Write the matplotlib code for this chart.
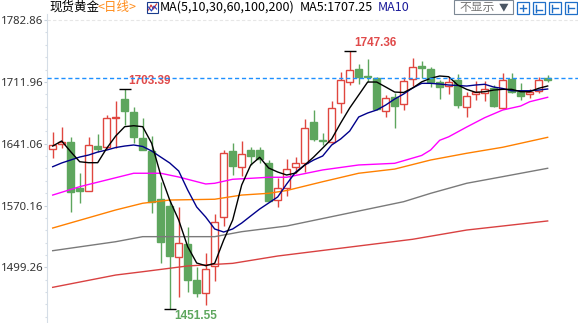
import matplotlib
matplotlib.use("Agg")
import matplotlib.pyplot as plt
from matplotlib.patches import Rectangle
from matplotlib.ticker import FixedLocator

plt.rcParams['font.family'] = ['Noto Sans CJK SC', 'DejaVu Sans']

# daily candles, oldest first
opens = [1634.6, 1640.4, 1643.4, 1589.9, 1587.4, 1638.4, 1637.3, 1670.5, 1692.3, 1677.8,
         1647.3, 1633.0, 1577.7, 1569.6, 1510.8, 1526.1, 1484.8, 1469.5, 1501.2, 1556.7,
         1632.7, 1614.7, 1633.8, 1633.8, 1619.0, 1576.5, 1590.3, 1614.0, 1619.3, 1665.6,
         1645.0, 1642.7, 1687.4, 1711.5, 1726.7, 1718.4, 1716.1, 1678.6, 1695.0, 1686.6,
         1715.3, 1730.2, 1726.7, 1711.5, 1707.6, 1714.1, 1683.5, 1697.7, 1699.6, 1705.3,
         1681.7, 1714.9, 1700.7, 1697.7, 1701.5, 1716.6]
closes = [1639.6, 1643.0, 1585.7, 1587.4, 1639.6, 1635.0, 1670.2, 1671.7, 1678.9, 1648.4,
          1633.8, 1573.9, 1528.7, 1512.6, 1526.9, 1484.8, 1470.2, 1497.1, 1551.0, 1630.1,
          1615.9, 1628.9, 1627.0, 1623.0, 1575.7, 1590.0, 1611.7, 1618.6, 1658.7, 1646.5,
          1644.5, 1681.7, 1714.1, 1725.6, 1717.2, 1717.2, 1680.9, 1693.1, 1684.3, 1712.6,
          1728.7, 1728.4, 1712.2, 1706.4, 1711.5, 1685.4, 1696.1, 1700.7, 1703.5, 1684.6,
          1714.1, 1700.7, 1696.1, 1700.7, 1714.1, 1714.6]
highs = [1654.8, 1660.6, 1648.4, 1607.5, 1648.8, 1652.2, 1674.0, 1690.0, 1703.39, 1683.1,
         1670.5, 1649.9, 1597.5, 1576.5, 1568.8, 1545.9, 1500.0, 1515.4, 1560.5, 1633.8,
         1642.2, 1644.2, 1637.3, 1637.3, 1622.4, 1601.4, 1623.5, 1626.2, 1669.0, 1679.7,
         1653.0, 1690.4, 1723.6, 1747.36, 1732.1, 1737.8, 1718.1, 1696.9, 1698.9, 1717.6,
         1739.0, 1735.9, 1729.4, 1714.1, 1717.2, 1721.0, 1700.7, 1713.3, 1713.3, 1708.4,
         1721.8, 1721.8, 1710.3, 1703.4, 1717.2, 1719.9]
lows = [1625.0, 1635.6, 1563.1, 1573.1, 1586.3, 1631.0, 1635.0, 1636.7, 1662.5, 1642.2,
        1633.3, 1561.3, 1504.6, 1451.55, 1465.6, 1471.4, 1465.3, 1456.1, 1484.0, 1546.7,
        1605.2, 1604.0, 1616.6, 1618.9, 1575.4, 1568.8, 1581.1, 1607.1, 1609.0, 1644.2,
        1639.6, 1641.9, 1675.9, 1708.4, 1709.2, 1712.2, 1679.7, 1671.3, 1659.4, 1679.7,
        1707.6, 1716.1, 1706.4, 1692.3, 1697.7, 1681.7, 1671.3, 1691.2, 1690.4, 1682.8,
        1680.5, 1699.6, 1691.2, 1693.1, 1699.6, 1711.5]
last_price = 1716.0

ma5 = [1638.4, 1644.2, 1631.9, 1620.4, 1619.3, 1619.3, 1635.8, 1649.9, 1660.6, 1661.7,
       1660.6, 1641.5, 1605.2, 1576.5, 1553.6, 1523.0, 1504.3, 1501.2, 1503.9, 1530.6,
       1553.6, 1593.7, 1616.6, 1625.5, 1613.2, 1608.6, 1605.2, 1607.5, 1616.6, 1625.8,
       1636.1, 1646.5, 1664.8, 1682.0, 1696.9, 1711.8, 1711.8, 1706.1, 1700.3, 1699.8,
       1705.0, 1712.0, 1716.1, 1718.7, 1717.9, 1708.4, 1703.4, 1700.0, 1700.7, 1702.6,
       1703.4, 1703.4, 1700.7, 1700.7, 1704.6, 1707.25]
ma10 = [1614.7, 1619.0, 1622.4, 1625.8, 1628.1, 1631.5, 1633.8, 1636.7, 1638.4, 1639.6,
        1637.9, 1632.7, 1625.8, 1619.0, 1609.8, 1588.0, 1568.5, 1557.0, 1543.3, 1539.8,
        1543.3, 1550.1, 1558.2, 1566.2, 1573.1, 1580.0, 1594.9, 1608.6, 1616.6, 1622.4,
        1627.0, 1639.6, 1646.5, 1655.6, 1671.7, 1676.3, 1679.7, 1685.4, 1692.3, 1698.1,
        1705.0, 1710.3, 1710.3, 1709.5, 1708.4, 1707.8, 1707.2, 1708.4, 1709.2, 1706.1,
        1704.4, 1701.8, 1701.8, 1701.8, 1702.6, 1703.8]

# slower averages, sampled at selected candles
ma30_idx = [0, 3, 6, 9, 12, 14, 17, 18, 20, 22, 24, 26, 30, 34, 38, 41, 42, 43, 44, 46, 48, 50, 52, 53, 55]
ma30 = [1582.2, 1591.8, 1599.5, 1607.2, 1607.2, 1602.9, 1594.9, 1595.7, 1600.3, 1601.4, 1602.6,
        1602.6, 1611.0, 1616.7, 1618.6, 1627.6, 1633.9, 1645.0, 1649.0, 1660.2, 1670.9, 1679.7,
        1684.3, 1689.2, 1694.3]
ma60_idx = [0, 7, 10, 13, 18, 21, 24, 26, 30, 34, 38, 42, 46, 50, 55]
ma60 = [1544.4, 1565.1, 1572.8, 1576.5, 1577.4, 1582.2, 1584.2, 1587.4, 1597.5, 1607.2,
        1612.0, 1622.4, 1630.1, 1637.0, 1648.4]
ma100_idx = [0, 7, 10, 18, 21, 26, 39, 42, 46, 50, 55]
ma100 = [1518.4, 1528.7, 1534.5, 1534.5, 1540.2, 1546.7, 1574.6, 1584.2, 1595.7, 1603.3, 1612.9]
ma200_idx = [0, 7, 10, 15, 20, 25, 40, 46, 50, 55]
ma200 = [1476.4, 1490.5, 1494.3, 1500.9, 1503.9, 1512.3, 1531.5, 1542.1, 1546.7, 1552.5]

yticks = [1499.26, 1570.16, 1641.06, 1711.96, 1782.86]

UP = "#e0463f"
DOWN = "#5ea65e"

W, H = 578, 323
fig = plt.figure(figsize=(W / 100, H / 100), dpi=100)
ax = fig.add_axes([47 / W, 0, (W - 47) / W, (H - 14) / H])

n = len(closes)
for i in range(n):
    o, c, h, l = opens[i], closes[i], highs[i], lows[i]
    up = c >= o
    col = UP if up else DOWN
    ax.vlines(i, l, h, color=col, lw=1.0, zorder=2)
    bottom = min(o, c)
    height = max(abs(c - o), 0.6)
    ax.add_patch(Rectangle((i - 0.36, bottom), 0.72, height,
                           facecolor="white" if up else col, edgecolor=col,
                           lw=1.0, zorder=2.5))

x = list(range(n))
ax.plot(ma200_idx, ma200, color="#d94141", lw=1.0, zorder=3)
ax.plot(ma100_idx, ma100, color="#7a7a7a", lw=1.0, zorder=3)
ax.plot(ma60_idx, ma60, color="#ff8000", lw=1.0, zorder=3)
ax.plot(ma30_idx, ma30, color="#ff00ff", lw=1.0, zorder=3)
ax.plot(x, ma10, color="#00008b", lw=1.0, zorder=3)
ax.plot(x, ma5, color="black", lw=1.0, zorder=3)

# current price and top grid line
ax.axhline(last_price, color="#1e90ff", lw=1.0, ls=(0, (3, 2)), zorder=4)
ax.axhline(yticks[-1], color="#e6e6e6", lw=0.8, ls=(0, (3, 2)), zorder=1)

# extreme markers
i_hi = highs.index(max(highs))
i_lo = lows.index(min(lows))
i_hi2 = highs.index(max(highs[:20]))
for idx, val in [(i_hi, highs[i_hi]), (i_hi2, highs[i_hi2]), (i_lo, lows[i_lo])]:
    ax.plot(idx, val, marker="_", ms=8, mew=1.0, color="black", zorder=5)

ax.annotate(f"{highs[i_hi]:.2f}", (i_hi, highs[i_hi]), xytext=(5, 8), textcoords="offset pixels",
            ha="left", va="center", color="#e04a4a", fontsize=8.5, fontweight="bold",
            family="Liberation Sans")
ax.annotate(f"{highs[i_hi2]:.2f}", (i_hi2, highs[i_hi2]), xytext=(4, 8), textcoords="offset pixels",
            ha="left", va="center", color="#e04a4a", fontsize=8.5, fontweight="bold",
            family="Liberation Sans")
ax.annotate(f"{lows[i_lo]:.2f}", (i_lo, lows[i_lo]), xytext=(5, -7), textcoords="offset pixels",
            ha="left", va="center", color="#5ea65e", fontsize=8.5, fontweight="bold",
            family="Liberation Sans")

ax.set_xlim(-0.633, 58.37)
ax.set_ylim(1435.5, 1789.8)
for s in ["top", "right", "bottom"]:
    ax.spines[s].set_visible(False)
ax.spines["left"].set_color("#d5dde6")
ax.set_xticks([])
ax.set_yticks(yticks)
ax.set_yticklabels([f"{v:.2f}" for v in yticks], family="Noto Sans", fontsize=8.2, color="#333333")
ax.yaxis.set_minor_locator(FixedLocator([yticks[0] + k * 14.18 for k in range(-4, 21)]))
ax.tick_params(axis="y", which="major", length=2.5, width=0.8, color="#c8d2dc", pad=0)
ax.tick_params(axis="y", which="minor", length=1.5, width=0.8, color="#d5dde6")

# header row
def fx(px):
    return px / W

def fy(py):
    return 1 - py / H

fig.text(fx(49), fy(7.5), "现货黄金", fontsize=9, color="black", va="center")
fig.text(fx(97), fy(7.5), "<日线>", fontsize=9, color="#ff8c1a", va="center")
fig.patches.append(Rectangle((fx(147), fy(13)), 11 / W, 11 / H, transform=fig.transFigure,
                             facecolor="white", edgecolor="#1a3c8c", lw=0.8))
fig.lines.append(plt.Line2D([fx(148.5), fx(151), fx(153.5), fx(156.5)],
                            [fy(10), fy(5), fy(9), fy(4)], transform=fig.transFigure,
                            color="#d03030", lw=0.8))
fig.lines.append(plt.Line2D([fx(148.5), fx(151.5), fx(154), fx(156.5)],
                            [fy(7), fy(11), fy(6), fy(9)], transform=fig.transFigure,
                            color="#2040c0", lw=0.8))
fig.text(fx(160), fy(7.5), "MA(5,10,30,60,100,200)", fontsize=9, color="black", va="center")
fig.text(fx(300), fy(7.5), f"MA5:{ma5[-1]:.2f}", fontsize=9, color="black", va="center")
fig.text(fx(378), fy(7.5), "MA10", fontsize=9, color="#1a1a9a", va="center")

fig.patches.append(Rectangle((fx(453.5), fy(14)), 59 / W, 14 / H, transform=fig.transFigure,
                             facecolor="white", edgecolor="#7d8894", lw=0.8))
fig.text(fx(459), fy(7.5), "不显示", fontsize=8.5, color="#777777", va="center")
fig.text(fx(499), fy(7.5), "▼", fontsize=7, color="#4a5563", va="center",
         family=["Noto Sans CJK SC", "DejaVu Sans"])

for x0 in [517, 533, 549, 565]:
    fig.patches.append(Rectangle((fx(x0), fy(14)), 12 / W, 12 / H, transform=fig.transFigure,
                                 facecolor="white", edgecolor="#1f6fc8", lw=0.9))
fig.lines.append(plt.Line2D([fx(520), fx(526)], [fy(8), fy(8)], transform=fig.transFigure, color="#1f6fc8", lw=1))
fig.lines.append(plt.Line2D([fx(523), fx(523)], [fy(5), fy(11)], transform=fig.transFigure, color="#1f6fc8", lw=1))
fig.lines.append(plt.Line2D([fx(536), fx(536)], [fy(4.5), fy(11.5)], transform=fig.transFigure, color="#1f6fc8", lw=1))
fig.lines.append(plt.Line2D([fx(536), fx(542)], [fy(10), fy(10)], transform=fig.transFigure, color="#1f6fc8", lw=1))
fig.lines.append(plt.Line2D([fx(552), fx(552)], [fy(4.5), fy(11.5)], transform=fig.transFigure, color="#1f6fc8", lw=1))
fig.lines.append(plt.Line2D([fx(553), fx(558)], [fy(8), fy(8)], transform=fig.transFigure, color="#1f6fc8", lw=1))
fig.lines.append(plt.Line2D([fx(568), fx(568)], [fy(4.5), fy(11.5)], transform=fig.transFigure, color="#1f6fc8", lw=1))
fig.lines.append(plt.Line2D([fx(569), fx(574)], [fy(8), fy(8)], transform=fig.transFigure, color="#1f6fc8", lw=1))

fig.savefig("out.png", dpi=100)
